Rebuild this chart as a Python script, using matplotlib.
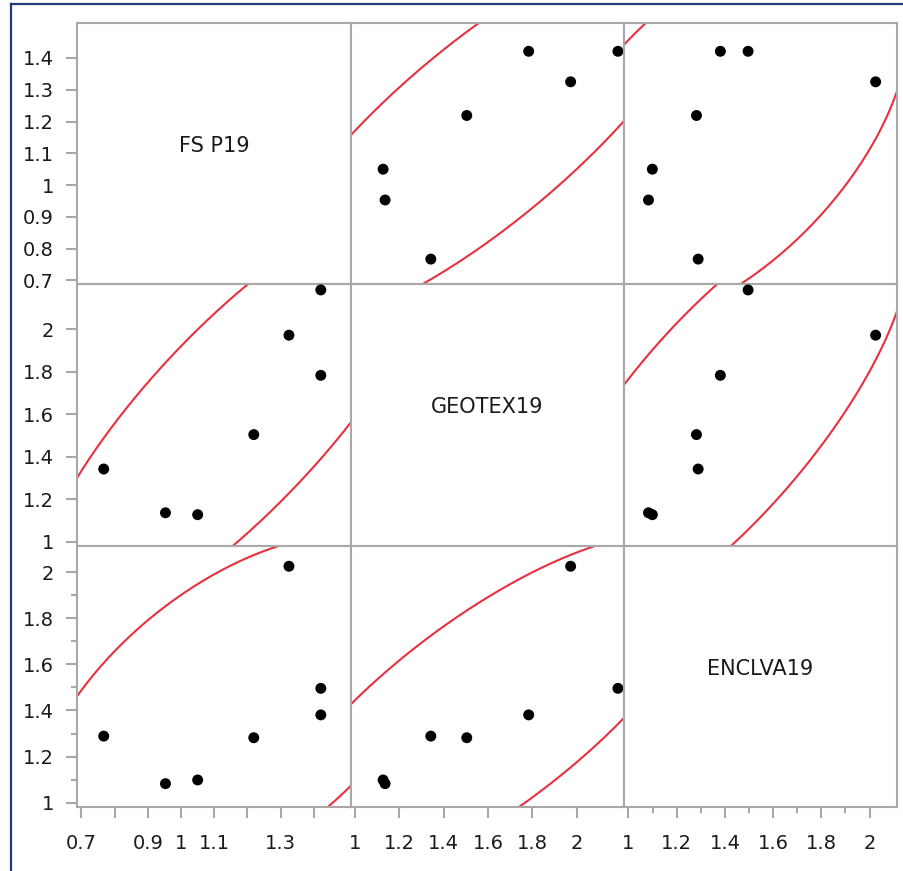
import numpy as np
import matplotlib
matplotlib.use("Agg")
import matplotlib.pyplot as plt
from matplotlib.lines import Line2D

# variable names and values (7 observations)
names = ["FS P19", "GEOTEX19", "ENCLVA19"]
fs_p19 = [1.421, 1.421, 1.325, 1.219, 1.050, 0.953, 0.767]
geotex19 = [2.185, 1.783, 1.972, 1.504, 1.127, 1.136, 1.342]
enclva19 = [1.496, 1.381, 2.025, 1.282, 1.099, 1.083, 1.289]

# axis ranges and ticks per variable
limits = [(0.688, 1.511), (0.981, 2.212), (0.981, 2.114)]
fs_ticks = [0.7, 0.8, 0.9, 1.0, 1.1, 1.2, 1.3, 1.4]
fs_ylabels = ["0.7", "0.8", "0.9", "1", "1.1", "1.2", "1.3", "1.4"]
fs_xlabels = ["0.7", "", "0.9", "1", "1.1", "", "1.3", ""]
geo_ticks = [1.0, 1.2, 1.4, 1.6, 1.8, 2.0]
geo_labels = ["1", "1.2", "1.4", "1.6", "1.8", "2"]
enc_ticks = [1.0, 1.2, 1.4, 1.6, 1.8, 2.0]
enc_minor = [1.1, 1.3, 1.5, 1.7, 1.9]
enc_labels = ["1", "1.2", "1.4", "1.6", "1.8", "2"]

data = [np.array(fs_p19), np.array(geotex19), np.array(enclva19)]
major = [fs_ticks, geo_ticks, enc_ticks]
minor = [[], [], enc_minor]
ylabels = [fs_ylabels, geo_labels, enc_labels]
xlabels = [fs_xlabels, geo_labels, enc_labels]

plt.rcParams['font.family'] = ['DejaVu Sans']
gray = "#a8a8a8"
red = "#e8303f"
W, H = 904, 871
fig = plt.figure(figsize=(W / 100, H / 100), dpi=100)

# blue frame (left and top edges visible)
fig.add_artist(Line2D([11 / W, 11 / W], [0, 1 - 4 / H], color="#1f3c78", lw=1.6))
fig.add_artist(Line2D([11 / W, 1], [1 - 4 / H, 1 - 4 / H], color="#1f3c78", lw=1.6))

left0, top0 = 77.5, 22.7
pw, ph = 273.2, 261.5
chi2_95 = -2 * np.log(0.05)
t = np.linspace(0, 2 * np.pi, 400)

for i in range(3):          # row -> y variable
    for j in range(3):      # column -> x variable
        x0 = left0 + j * pw
        y0 = top0 + (i + 1) * ph
        ax = fig.add_axes([x0 / W, 1 - y0 / H, pw / W, ph / H])
        ax.set_xlim(limits[j])
        ax.set_ylim(limits[i])
        for s in ax.spines.values():
            s.set_color(gray)
            s.set_linewidth(1.5)
        ax.tick_params(which="both", color=gray, width=1.5, labelsize=14,
                       labelcolor="#1a1a1a")
        ax.tick_params(which="major", length=8)
        ax.tick_params(which="minor", length=4)
        ax.tick_params(axis="y", which="major", pad=9)
        ax.tick_params(axis="x", which="major", pad=11)
        if j == 0:
            ax.set_yticks(major[i])
            ax.set_yticks(minor[i], minor=True)
            ax.set_yticklabels(ylabels[i])
        else:
            ax.set_yticks([])
        if i == 2:
            ax.set_xticks(major[j])
            ax.set_xticks(minor[j], minor=True)
            ax.set_xticklabels(xlabels[j])
        else:
            ax.set_xticks([])

        if i == j:
            ax.text(0.5, 0.53, names[i], transform=ax.transAxes,
                    ha="center", va="center", fontsize=15, color="#1a1a1a")
            continue

        xv, yv = data[j], data[i]
        # 95% bivariate normal density ellipse
        cov = np.cov(xv, yv)
        L = np.linalg.cholesky(cov)
        circ = np.vstack([np.cos(t), np.sin(t)]) * np.sqrt(chi2_95)
        ell = L @ circ
        ax.plot(xv.mean() + ell[0], yv.mean() + ell[1], color=red, lw=1.5)
        ax.scatter(xv, yv, s=62, color="black", zorder=3, clip_on=True,
                   edgecolors="none")

fig.savefig("out.png", dpi=100)
